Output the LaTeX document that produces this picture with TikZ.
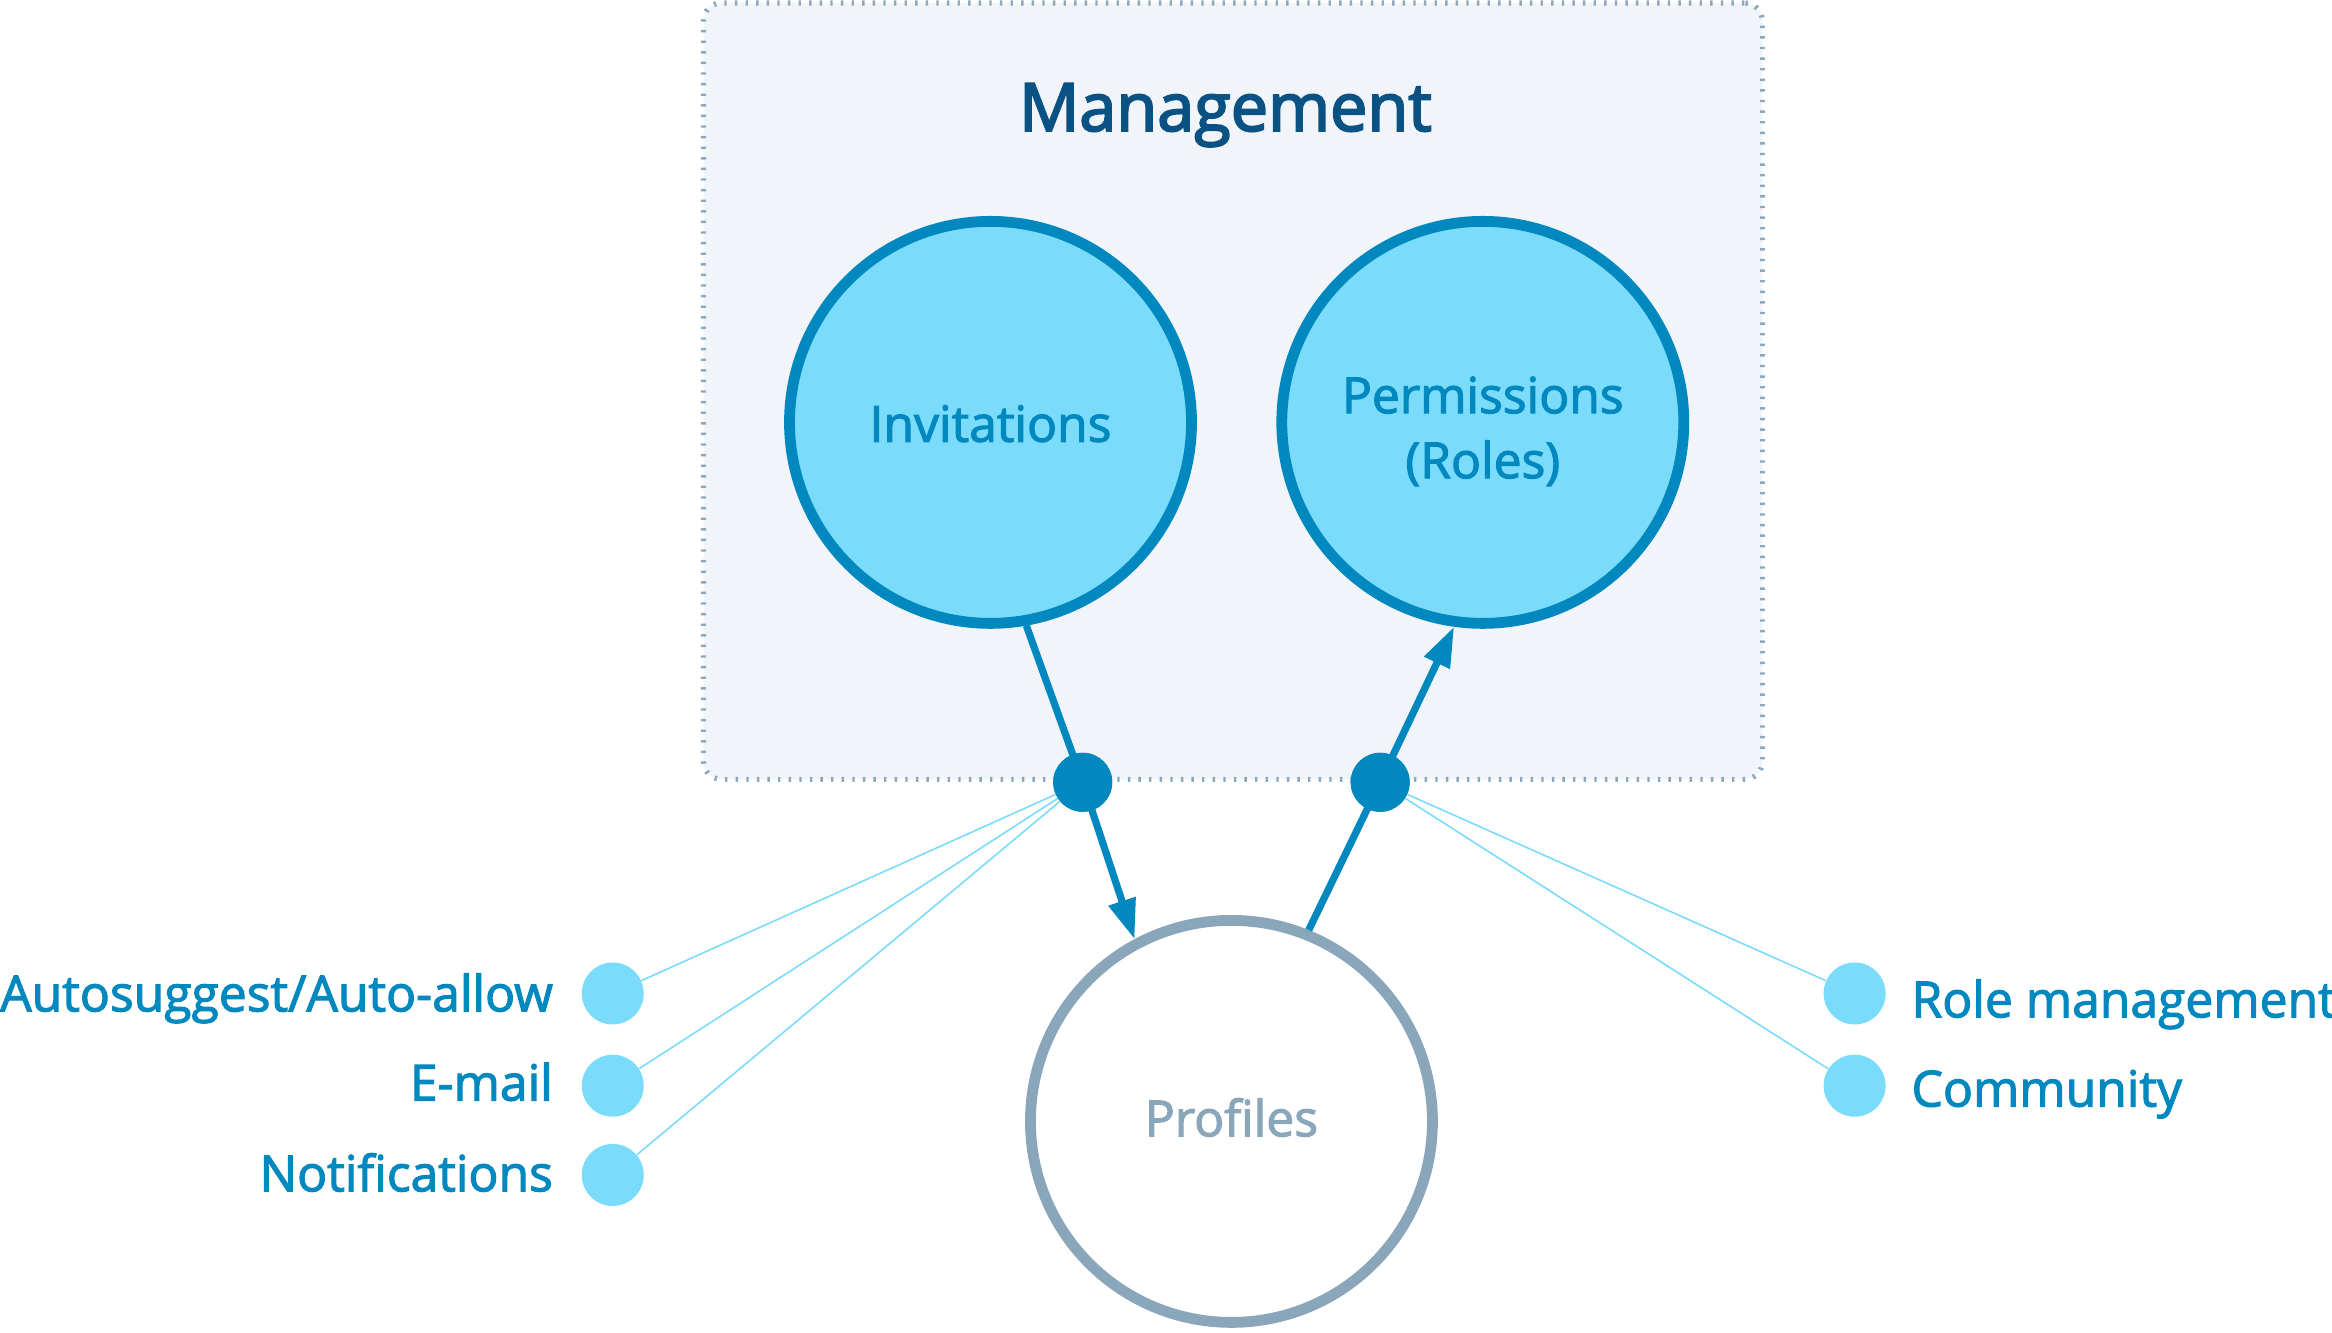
\documentclass[tikz,border=0pt]{standalone}
\usepackage{fontspec}
\setmainfont{Open Sans}
\newfontfamily\semi{Open Sans}[FakeBold=2.2]
\newfontfamily\semititle{Open Sans}[FakeBold=3]
\usetikzlibrary{arrows.meta}
\definecolor{cfill}{HTML}{7ADCFA}
\definecolor{cblue}{HTML}{0088BF}
\definecolor{ctitle}{HTML}{0A5283}
\definecolor{cgrey}{HTML}{89A6BB}
\definecolor{cbox}{HTML}{F1F5F9}
\definecolor{cboxline}{HTML}{8DA7BD}
\tikzset{
  mgmtbox/.style={draw=cboxline, fill=cbox, line width=2.6pt, dash pattern=on 1.2pt off 4.1pt, rounded corners=9pt, inner sep=0pt},
  bigcirc/.style={circle, draw=cblue, fill=cfill, line width=5.4pt, minimum size=201pt, inner sep=0pt},
  profcirc/.style={circle, draw=cgrey, fill=white, line width=5.4pt, minimum size=201pt, inner sep=0pt},
  ctext/.style={inner sep=0pt, align=center, font=\semi\fontsize{24.9}{32.5}\selectfont},
  hub/.style={circle, fill=cblue, minimum size=29.5pt, inner sep=0pt},
  leaf/.style={circle, fill=cfill, minimum size=31pt, inner sep=0pt},
  lbl/.style={text=cblue, inner sep=0pt, font=\semi\fontsize{24.9}{30}\selectfont},
  flow/.style={draw=cblue, line width=3.6pt, -{Triangle[length=20pt, width=13.5pt]}},
  thin/.style={draw=cfill, line width=0.8pt},
}
\begin{document}
\begin{tikzpicture}[x=0.7436pt, y=-0.7436pt]
\useasboundingbox (0,0) rectangle (1568,896);
\node[mgmtbox, minimum width=529.4pt, minimum height=388.2pt] (box) at (829,263) {};
\node[anchor=base, text=ctitle, inner sep=0pt, font=\semititle\fontsize{33.3}{40}\selectfont] (title) at (824,88) {Management};
\node[bigcirc] (inv) at (666,284) {};
\node[bigcirc] (perm) at (997,284) {};
\node[profcirc] (prof) at (828,754) {};
\node[ctext, text=cblue, anchor=base] (invtxt) at (666,297) {Invitations};
\node[ctext, text=cblue] (permtxt) at (997,290) {Permissions\\(Roles)};
\node[ctext, text=cgrey, anchor=base] (proftxt) at (828,764) {Profiles};
\node[hub] (dotL) at (728,526) {};
\node[hub] (dotR) at (928,526) {};
\node[leaf] (sA) at (412,668) {};
\node[leaf] (sE) at (412,730) {};
\node[leaf] (sN) at (412,790) {};
\node[leaf] (sR) at (1247,668) {};
\node[leaf] (sC) at (1247,730) {};
\node[lbl, anchor=base east] (lA) at (372,680) {Autosuggest/Auto-allow};
\node[lbl, anchor=base east] (lE) at (372,740) {E-mail};
\node[lbl, anchor=base east] (lN) at (372,801) {Notifications};
\node[lbl, anchor=base west] (lR) at (1285,684) {Role management};
\node[lbl, anchor=base west] (lC) at (1285,744) {Community};
\draw[thin] (dotL) -- (sA);
\draw[thin] (dotL) -- (sE);
\draw[thin] (dotL) -- (sN);
\draw[thin] (dotR) -- (sR);
\draw[thin] (dotR) -- (sC);
\draw[flow] (inv.-80) -- (dotL.center) -- (prof.118);
\draw[flow] (prof.68) -- (dotR.center) -- (perm.-98);
\node[hub] at (dotL) {};
\node[hub] at (dotR) {};
\end{tikzpicture}
\end{document}
